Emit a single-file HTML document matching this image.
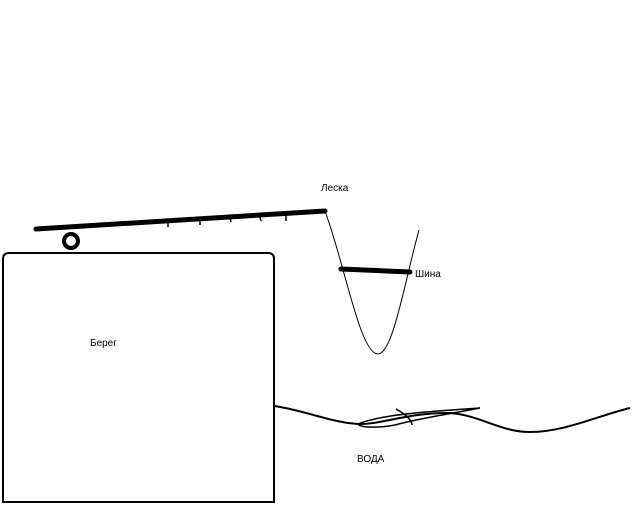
<!DOCTYPE html>
<html><head><meta charset="utf-8"><style>
html,body{margin:0;padding:0;background:#fff;width:640px;height:512px;overflow:hidden}
text{font-family:"Liberation Sans",sans-serif;font-size:10px;fill:#000}
</style></head><body>
<svg width="640" height="512" viewBox="0 0 640 512" xmlns="http://www.w3.org/2000/svg">
<g fill="none" stroke="#000">
<path d="M3,502 L3,259 Q3,253 9,253 L268,253 Q274,253 274,259 L274,502 Z" stroke-width="2"/>
<line x1="36" y1="229" x2="325" y2="211" stroke-width="5" stroke-linecap="round"/>
<path d="M168,222 l0,5 M200,220 l0,5 M230,218 l1,4 M260,217 l1,4 M286,215 l0,6" stroke-width="1.5"/>
<circle cx="71" cy="241" r="7" stroke-width="4"/>
<path d="M325,211 C345,265 360,354 378,354 C393,354 405,280 419,230" stroke-width="1"/>
<line x1="341" y1="269" x2="410" y2="272" stroke-width="5" stroke-linecap="round"/>
<path d="M275,406 C310,412 330,422 358,424 C380,425 410,412 450,413 C480,415 500,432 530,432 C565,432 600,415 630,408" stroke-width="2"/>
<path d="M358,424 C380,415 420,412 480,408 C450,414 420,418 395,425 C380,428 360,428 358,424 Z M396,409 C405,414 412,420 412,425" stroke-width="1.5"/>
</g>
<text x="321" y="191">Леска</text>
<text x="415" y="277">Шина</text>
<text x="90" y="346">Берег</text>
<text x="357" y="462">ВОДА</text>
</svg>
</body></html>
